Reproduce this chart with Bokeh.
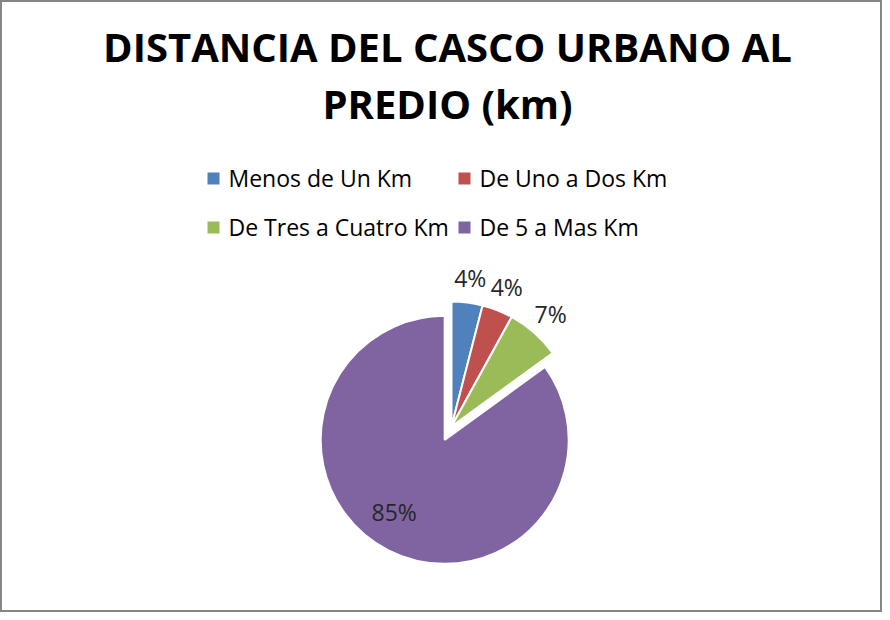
from bokeh.plotting import figure
from bokeh.models import Range1d
from bokeh.embed import file_html
from bokeh.resources import INLINE
from bokeh.core.properties import value
import math

# ---- data ----
title_lines = ["DISTANCIA DEL CASCO URBANO AL", "PREDIO (km)"]
categories = ["Menos de Un Km", "De Uno a Dos Km", "De Tres a Cuatro Km", "De 5 a Mas Km"]
percent = [4, 4, 7, 85]
labels = ["4%", "4%", "7%", "85%"]
colors = ["#4F81BD", "#C0504D", "#9BBB59", "#8064A2"]
exploded = [False, False, False, True]

W, H = 882, 612
FONT = "Open Sans"

p = figure(width=W, height=H, output_backend="svg", toolbar_location=None,
           x_range=Range1d(0, W), y_range=Range1d(0, H),
           min_border=0, outline_line_color="#868686", outline_line_width=3)
p.axis.visible = False
p.grid.visible = False
p.background_fill_color = "white"
p.border_fill_color = "white"

def sy(y):  # page y -> data y
    return 620 - y

def sx(x):
    return x - 8

# ---- title ----
p.text(x=[sx(455), sx(455)], y=[sy(54), sy(111)], text=title_lines,
       text_font=value(FONT), text_font_style="bold", text_font_size="40px",
       text_color="black", text_align="center", text_baseline="middle")

# ---- legend ----
leg_sq_x = [sx(221), sx(472), sx(221), sx(472)]
leg_y = [sy(186), sy(186), sy(235), sy(235)]
leg_tx = [sx(236), sx(487), sx(236), sx(487)]
p.rect(x=leg_sq_x, y=leg_y, width=12, height=12, width_units="screen",
       height_units="screen", fill_color=colors, line_color=None)
p.text(x=leg_tx, y=[v + 1 for v in leg_y], text=categories, text_font=value(FONT),
       text_font_size="23px", text_color="black", text_align="left",
       text_baseline="middle")

# ---- pie ----
cx, cy = sx(459), sy(434)
R = 125
explode_d = 15
total = sum(percent)
cum = 0.0
for v, col, lab, ex in zip(percent, colors, labels, exploded):
    a0 = cum / total * 2 * math.pi
    a1 = (cum + v) / total * 2 * math.pi
    mid = (a0 + a1) / 2
    cum += v
    # Excel: starts at 12 o'clock, clockwise
    start = math.pi / 2 - a1
    end = math.pi / 2 - a0
    bis = math.pi / 2 - mid
    ox, oy = (explode_d * math.cos(bis), explode_d * math.sin(bis)) if ex else (0, 0)
    rr = R - 1 if ex else R
    p.wedge(x=[cx + ox], y=[cy + oy], radius=rr, start_angle=start, end_angle=end,
            fill_color=col, line_color="white", line_width=2)
    if ex:
        lr = 0.71 * rr
        la = bis - math.radians(8)
        lx, ly = cx + ox + lr * math.cos(la), cy + oy + lr * math.sin(la)
    else:
        lr = R + 25
        lx, ly = cx + lr * math.cos(bis), cy + lr * math.sin(bis)
    p.text(x=[lx], y=[ly], text=[lab], text_font=value(FONT), text_font_size="23px",
           text_color="#262626", text_align="center", text_baseline="middle")

open("out.html", "w").write(file_html(p, INLINE))
